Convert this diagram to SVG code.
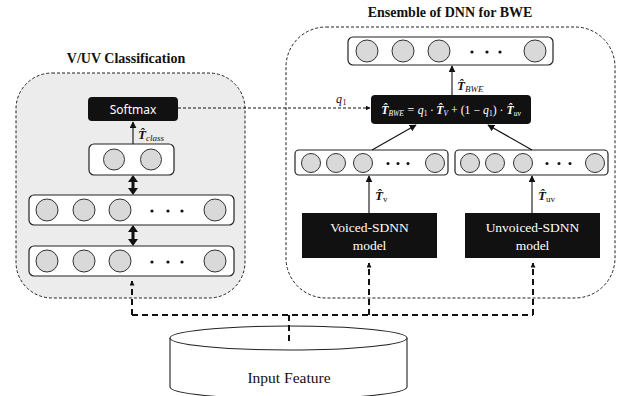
<svg xmlns="http://www.w3.org/2000/svg" width="624" height="396" viewBox="0 0 624 396">
<defs>
<marker id="ah" viewBox="0 0 10 10" refX="9" refY="5" markerWidth="7" markerHeight="7" markerUnits="userSpaceOnUse" orient="auto"><path d="M0,0 L10,5 L0,10 z" fill="#111"/></marker>
<marker id="ahd" viewBox="0 0 10 10" refX="9" refY="5" markerWidth="5" markerHeight="5" markerUnits="userSpaceOnUse" orient="auto-start-reverse"><path d="M0,0 L10,5 L0,10 z" fill="#111"/></marker>
</defs>
<style>
.panel{stroke:#222;stroke-width:1;stroke-dasharray:3 2}
.layer{fill:#fff;stroke:#222;stroke-width:1.2}
.neuron{fill:#d9d9d9;stroke:#333;stroke-width:1}
.dot{fill:#111}
.blk{fill:#111}
.title{font-family:"Liberation Serif",serif;font-weight:bold;font-size:14px;fill:#111}
.wt{font-family:"Liberation Serif",serif;font-size:13.5px;fill:#fff}
.ws{font-family:"Noto Sans","Liberation Sans",sans-serif;font-size:12px;fill:#fff}
.m{font-family:"Liberation Serif","DejaVu Serif",serif;font-style:italic;fill:#111}
.mw{font-family:"Liberation Serif","DejaVu Serif",serif;font-style:italic;fill:#fff}
.solid{stroke:#111;stroke-width:1.1;fill:none}
.dbl{fill:#111}
.tdash{stroke:#111;stroke-width:2;stroke-dasharray:6 4;fill:none}
.qdash{stroke:#111;stroke-width:1;stroke-dasharray:3 2;fill:none}
</style>
<rect width="624" height="396" fill="#fff"/>

<g id="vuv-panel">
<rect class="panel" x="16" y="73" width="229" height="225" rx="36" fill="#ececec"/>
<text class="title" x="126" y="63" text-anchor="middle">V/UV Classification</text>
</g>
<g id="ensemble-panel">
<rect class="panel" x="286" y="27" width="329" height="271" rx="40" fill="none"/>
<text class="title" x="450" y="17" text-anchor="middle">Ensemble of DNN for BWE</text>
</g>

<g id="softmax">
<rect class="blk" x="88" y="97" width="90" height="24" rx="4"/>
<text class="ws" x="133" y="113.5" text-anchor="middle">Softmax</text>
</g>
<g id="class-layer">
<rect class="layer" x="89" y="144" width="85" height="31" rx="5"/>
<circle class="neuron" cx="114" cy="159.5" r="10.5"/>
<circle class="neuron" cx="151" cy="159.5" r="10.5"/>
</g>
<g id="hidden-layer-2">
<rect class="layer" x="29" y="195" width="205" height="30" rx="5"/>
<circle class="neuron" cx="47" cy="210" r="11"/>
<circle class="neuron" cx="84" cy="210" r="11"/>
<circle class="neuron" cx="120" cy="210" r="11"/>
<circle class="dot" cx="152" cy="211" r="1.6"/><circle class="dot" cx="168" cy="211" r="1.6"/><circle class="dot" cx="182" cy="211" r="1.6"/>
<circle class="neuron" cx="215" cy="210" r="11"/>
</g>
<g id="hidden-layer-1">
<rect class="layer" x="29" y="246" width="205" height="30" rx="5"/>
<circle class="neuron" cx="47" cy="261" r="11"/>
<circle class="neuron" cx="84" cy="261" r="11"/>
<circle class="neuron" cx="120" cy="261" r="11"/>
<circle class="dot" cx="152" cy="262" r="1.6"/><circle class="dot" cx="168" cy="262" r="1.6"/><circle class="dot" cx="182" cy="262" r="1.6"/>
<circle class="neuron" cx="215" cy="261" r="11"/>
</g>

<g id="output-layer">
<rect class="layer" x="348" y="37" width="205" height="28" rx="5"/>
<circle class="neuron" cx="367" cy="51" r="11"/>
<circle class="neuron" cx="403" cy="51" r="11"/>
<circle class="neuron" cx="439" cy="51" r="11"/>
<circle class="dot" cx="472" cy="52" r="1.6"/><circle class="dot" cx="487" cy="52" r="1.6"/><circle class="dot" cx="500" cy="52" r="1.6"/>
<circle class="neuron" cx="535" cy="51" r="11"/>
</g>
<g id="combiner">
<rect class="blk" x="371" y="95" width="160" height="29" rx="4"/>
<text class="mw" x="451" y="113.5" text-anchor="middle" font-size="11.8"><tspan font-weight="bold">T̂</tspan><tspan font-size="7.5" dy="2">BWE</tspan><tspan dy="-2"> = q</tspan><tspan font-size="7.5" font-style="normal" dy="2">1</tspan><tspan dy="-2"> · </tspan><tspan font-weight="bold">T̂</tspan><tspan font-size="7.5" dy="2">V</tspan><tspan dy="-2" font-style="normal"> + (1 − </tspan><tspan>q</tspan><tspan font-size="7.5" font-style="normal" dy="2">1</tspan><tspan dy="-2" font-style="normal">) · </tspan><tspan font-weight="bold">T̂</tspan><tspan font-size="7.5" dy="2">uv</tspan></text>
</g>
<g id="voiced-layer">
<rect class="layer" x="295" y="150" width="153" height="25" rx="4"/>
<circle class="neuron" cx="311" cy="163" r="9.5"/>
<circle class="neuron" cx="336" cy="163" r="9.5"/>
<circle class="neuron" cx="363" cy="163" r="9.5"/>
<circle class="dot" cx="388" cy="163.5" r="1.5"/><circle class="dot" cx="398" cy="163.5" r="1.5"/><circle class="dot" cx="408" cy="163.5" r="1.5"/>
<circle class="neuron" cx="435" cy="163" r="9.5"/>
</g>
<g id="unvoiced-layer">
<rect class="layer" x="455" y="150" width="153" height="25" rx="4"/>
<circle class="neuron" cx="470" cy="163" r="9.5"/>
<circle class="neuron" cx="495" cy="163" r="9.5"/>
<circle class="neuron" cx="523" cy="163" r="9.5"/>
<circle class="dot" cx="547" cy="163.5" r="1.5"/><circle class="dot" cx="559" cy="163.5" r="1.5"/><circle class="dot" cx="570" cy="163.5" r="1.5"/>
<circle class="neuron" cx="595" cy="163" r="9.5"/>
</g>
<g id="voiced-sdnn">
<rect class="blk" x="302" y="213" width="135" height="45"/>
<text class="wt" x="369.5" y="232" text-anchor="middle">Voiced-SDNN</text>
<text class="wt" x="369.5" y="250" text-anchor="middle">model</text>
</g>
<g id="unvoiced-sdnn">
<rect class="blk" x="465" y="213" width="135" height="45"/>
<text class="wt" x="532.5" y="232" text-anchor="middle">Unvoiced-SDNN</text>
<text class="wt" x="532.5" y="250" text-anchor="middle">model</text>
</g>
<g id="input-feature">
<path d="M170,338 L170,387 A118.5,12 0 0 0 407,387 L407,338" fill="#fff" stroke="#222" stroke-width="1.1"/>
<ellipse cx="288.5" cy="338" rx="118.5" ry="12" fill="#fff" stroke="#222" stroke-width="1.1"/>
<text x="289" y="383" text-anchor="middle" font-family="'Liberation Serif',serif" font-size="15.5" fill="#111">Input Feature</text>
</g>

<g id="connectors">
<line class="solid" x1="133" y1="144" x2="133" y2="122" marker-end="url(#ah)"/>
<text class="m" x="138" y="139" font-size="13"><tspan font-weight="bold">T̂</tspan><tspan font-size="9" dy="2">class</tspan></text>
<path class="dbl" d="M133,175 L138,182 L134.5,182 L134.5,188 L138,188 L133,195 L128,188 L131.5,188 L131.5,182 L128,182 z"/>
<path class="dbl" d="M133,225 L138,232 L134.5,232 L134.5,239 L138,239 L133,246 L128,239 L131.5,239 L131.5,232 L128,232 z"/>
<line class="qdash" x1="178" y1="108" x2="370" y2="108" marker-end="url(#ahd)"/>
<text class="m" x="336" y="103" font-size="12">q<tspan font-size="8" font-style="normal" dx="0.5" dy="2">1</tspan></text>
<line class="solid" x1="452" y1="95" x2="452" y2="66" marker-end="url(#ah)"/>
<text class="m" x="457" y="90" font-size="13"><tspan font-weight="bold">T̂</tspan><tspan font-size="9" dy="2">BWE</tspan></text>
<line class="solid" x1="372" y1="150" x2="416" y2="125" marker-end="url(#ah)"/>
<line class="solid" x1="532" y1="150" x2="488" y2="125" marker-end="url(#ah)"/>
<line class="solid" x1="369" y1="213" x2="369" y2="176" marker-end="url(#ah)"/>
<text class="m" x="375" y="200" font-size="13"><tspan font-weight="bold">T̂</tspan><tspan font-size="9" font-style="normal" dy="2">v</tspan></text>
<line class="solid" x1="532" y1="213" x2="532" y2="176" marker-end="url(#ah)"/>
<text class="m" x="538" y="200" font-size="13"><tspan font-weight="bold">T̂</tspan><tspan font-size="9" font-style="normal" dy="2">uv</tspan></text>
<path class="tdash" d="M132,315 L533,315"/>
<path class="tdash" d="M132,315 L132,281" marker-end="url(#ahd)"/>
<path class="tdash" d="M369,315 L369,263" marker-end="url(#ahd)"/>
<path class="tdash" d="M533,315 L533,263" marker-end="url(#ahd)"/>
<path class="tdash" d="M289,315 L289,344"/>
</g>
</svg>
